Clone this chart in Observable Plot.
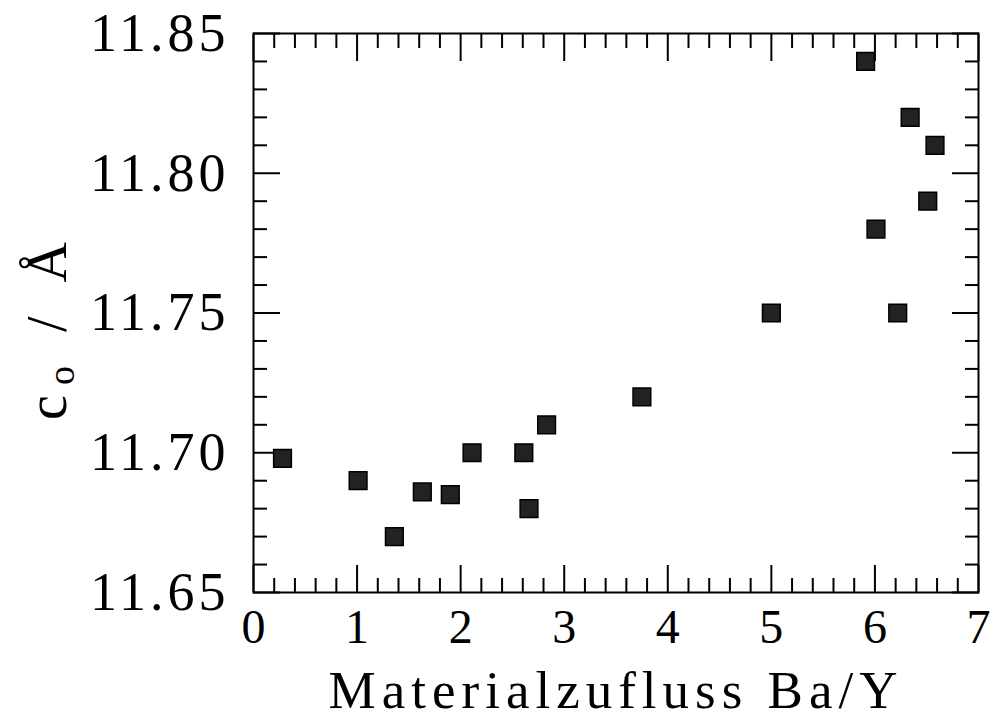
<!DOCTYPE html>
<html><head><meta charset="utf-8">
<script src="https://cdn.jsdelivr.net/npm/d3@7"></script>
<script src="https://cdn.jsdelivr.net/npm/@observablehq/plot@0.6"></script>
<style>body{margin:0;background:#fff}</style>
</head><body><div id="chart"></div>
<script>
// Data
const flowBaY  = [0.28, 1.01, 1.36, 1.63, 1.90, 2.11, 2.61, 2.66, 2.83, 3.75, 5.00, 5.91, 6.01, 6.22, 6.34, 6.51, 6.58];
const cLattice = [11.698, 11.690, 11.670, 11.686, 11.685, 11.700, 11.700, 11.680, 11.710, 11.720, 11.750, 11.840, 11.780, 11.750, 11.820, 11.790, 11.810];

const xMajor = [0, 1, 2, 3, 4, 5, 6, 7];
const xMinor = [0.2,0.4,0.6,0.8, 1.2,1.4,1.6,1.8, 2.2,2.4,2.6,2.8, 3.2,3.4,3.6,3.8, 4.2,4.4,4.6,4.8, 5.2,5.4,5.6,5.8, 6.2,6.4,6.6,6.8];
const yMajor = [11.65, 11.70, 11.75, 11.80, 11.85];
const yMinor = [11.66,11.67,11.68,11.69, 11.71,11.72,11.73,11.74, 11.76,11.77,11.78,11.79, 11.81,11.82,11.83,11.84];
const xLabel = "Materialzufluss Ba/Y";

const points = flowBaY.map((x, i) => ({x, y: cLattice[i]}));
const fam = "Liberation Serif";

const tickOpts = (size) => ({tickSize: size, fill: "none", label: null, stroke: "#000", strokeWidth: 2});

const plot = Plot.plot({
  width: 992, height: 720,
  marginLeft: 253, marginRight: 14, marginTop: 33, marginBottom: 128,
  style: {fontFamily: fam, background: "#fff", color: "#000"},
  x: {domain: [0, 7]},
  y: {domain: [11.65, 11.85]},
  marks: [
    Plot.axisX(xMajor, {anchor: "bottom", ...tickOpts(-27)}),
    Plot.axisX(xMinor, {anchor: "bottom", ...tickOpts(-14)}),
    Plot.axisX(xMajor, {anchor: "top", ...tickOpts(-27)}),
    Plot.axisX(xMinor, {anchor: "top", ...tickOpts(-14)}),
    Plot.axisY(yMajor, {anchor: "left", ...tickOpts(-27)}),
    Plot.axisY(yMinor, {anchor: "left", ...tickOpts(-14)}),
    Plot.axisY(yMajor, {anchor: "right", ...tickOpts(-27)}),
    Plot.axisY(yMinor, {anchor: "right", ...tickOpts(-14)}),
    Plot.axisX(xMajor, {anchor: "bottom", tickSize: 0, tickPadding: 16, fontSize: 48, label: null, tickFormat: d => String(d), fill: "#000"}),
    Plot.axisY(yMajor, {anchor: "left", tickSize: 0, tickPadding: 24, fontSize: 54, label: null, tickFormat: d => d.toFixed(2), fill: "#000", className: "ylabels"}),
    Plot.frame({stroke: "#000", strokeWidth: 2}),
    Plot.dot(points, {x: "x", y: "y", symbol: "square", r: 10, fill: "#222", stroke: "#000", strokeWidth: 1.5}),
    Plot.text([xLabel], {frameAnchor: "bottom", dy: 115, fontSize: 53, fill: "#000", fontFamily: fam, className: "xtitle"})
  ]
});

const svg = d3.select(plot);
svg.selectAll(".xtitle text").style("letter-spacing", "6px");
svg.selectAll(".ylabels text").style("letter-spacing", "4px");

const yl = svg.append("text")
  .attr("transform", "translate(66,326) rotate(-90)")
  .attr("text-anchor", "middle")
  .attr("font-family", fam)
  .attr("font-size", 56)
  .attr("fill", "#000")
  .style("letter-spacing", "10px");
yl.append("tspan").text("c");
yl.append("tspan").attr("font-size", 38).attr("dy", 8).text("o");
yl.append("tspan").attr("dy", -8).text(" / Å");

document.getElementById("chart").appendChild(plot);
</script>
</body></html>
